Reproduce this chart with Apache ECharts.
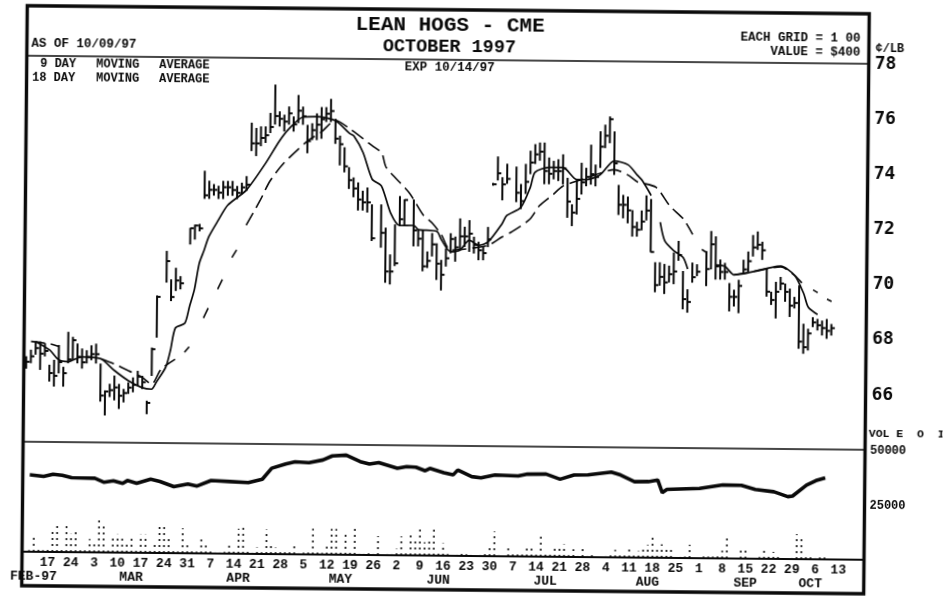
<!DOCTYPE html>
<html><head><meta charset="utf-8">
<style>
html,body{margin:0;padding:0;background:#fff;overflow:hidden}
#main{width:944px;height:597px;transform:rotate(0.55deg);transform-origin:472px 298.5px}
</style>
<script src="https://cdn.jsdelivr.net/npm/echarts@6/dist/echarts.min.js"></script>
</head><body><div id="main"></div>
<script>
// Slots are weekdays counted from Monday 10 Feb 1997. Price in cents per lb.
var tickLabels=['17','24','3','10','17','24','31','7','14','21','28','5','12','19','26','2','9','16','23','30','7','14','21','28','4','11','18','25','1','8','15','22','29','6','13'];
var monthSlots=[2,23,46,68,89,112,134,155,169];
var monthNames=['FEB-97','MAR','APR','MAY','JUN','JUL','AUG','SEP','OCT'];
var highs=[67.1,67.34,67.64,67.64,67.58,66.8,66.98,67.52,66.73,68.0,
67.82,67.58,67.4,67.34,67.52,67.58,66.86,65.89,66.13,66.43,
66.13,65.95,66.19,66.37,66.61,66.43,65.53,67.46,69.35,null,
70.97,69.94,70.36,70.06,null,71.81,71.93,71.96,73.89,73.53,
73.41,73.35,73.53,73.53,73.53,73.35,73.47,73.71,75.65,75.46,
75.52,75.52,76.01,77.04,76.07,75.95,76.25,75.89,76.67,76.25,
75.59,75.65,76.01,76.24,76.24,76.54,75.82,75.21,74.79,74.07,
73.7,73.52,73.22,73.34,72.73,null,72.73,71.89,70.92,72.01,
73.04,72.92,null,72.92,71.83,71.83,71.04,71.71,71.34,70.74,
71.16,71.71,71.59,72.25,71.95,72.19,71.59,71.41,71.22,71.95,
73.55,74.51,73.76,74.25,null,74.15,73.52,74.25,74.73,74.97,
75.03,75.03,74.49,74.37,74.43,74.61,73.76,72.8,73.7,74.31,
74.13,74.97,74.25,75.46,75.7,76.0,75.46,73.52,73.16,73.1,
72.61,72.19,72.6,73.15,73.02,70.73,70.73,70.67,70.61,71.09,
71.51,70.42,69.76,70.73,70.67,null,71.15,71.88,71.69,70.85,
70.73,70.0,69.76,70.12,70.85,71.15,71.75,71.88,71.51,70.55,
69.7,70.06,70.24,70.0,69.82,69.52,69.94,68.55,68.37,68.79,
68.73,68.67,68.73,68.55];
var lows=[66.65,66.85,67.16,66.61,67.1,66.19,66.01,66.49,66.01,66.86,
66.98,66.86,66.67,66.86,66.98,66.86,65.48,64.98,65.65,65.53,
65.22,65.46,65.77,65.83,66.07,65.95,65.04,66.43,67.82,null,
69.82,69.15,69.52,69.58,null,71.21,71.39,71.69,72.87,72.87,
72.99,72.87,72.87,72.99,72.99,72.87,73.05,73.17,74.62,74.44,
74.8,74.92,75.28,75.59,75.52,75.34,75.59,75.34,75.65,75.59,
74.56,75.04,75.04,75.09,75.7,75.7,74.91,74.13,73.88,73.28,
72.98,72.5,72.5,72.43,71.4,null,71.16,69.89,69.83,70.5,
71.95,71.95,null,71.22,71.22,70.32,70.44,70.86,70.01,69.63,
70.5,70.98,70.68,71.1,71.22,71.04,70.98,70.74,70.74,71.22,
73.45,73.64,72.92,73.52,null,72.86,72.61,73.16,73.88,74.25,
74.37,73.52,73.52,73.7,73.64,73.52,72.31,72.01,72.43,73.16,
73.46,73.52,73.46,74.13,74.85,75.03,73.88,72.43,72.31,72.13,
71.65,71.65,71.88,72.24,71.09,69.64,69.88,69.58,70.0,69.94,
70.79,69.03,68.91,70.0,70.24,null,69.88,70.49,70.12,70.12,
70.12,68.97,69.15,68.91,70.36,70.42,70.97,71.21,70.85,69.52,
69.22,68.73,69.76,69.34,68.79,69.1,67.64,67.46,67.58,68.43,
68.31,68.13,68.01,68.13];
var closes=[66.9,67.1,67.4,67.2,67.3,66.5,66.4,66.9,66.5,67.0,
67.7,67.1,66.9,67.1,67.2,67.2,65.7,65.85,65.9,66.0,
65.7,65.8,66.0,66.1,66.4,66.2,65.45,67.4,69.3,null,
70.6,69.3,69.9,69.8,null,71.8,71.9,71.8,73.0,73.2,
73.2,73.1,73.3,73.3,73.2,73.1,73.3,73.4,74.9,74.9,
75.1,75.2,75.5,75.9,75.8,75.7,76.0,75.6,76.1,75.9,
75.0,75.4,75.6,75.8,76.0,76.1,75.1,74.9,74.1,73.6,
73.3,72.9,72.8,72.8,71.5,null,71.7,70.3,70.3,70.6,
72.2,72.9,null,71.8,71.5,70.5,70.7,71.3,70.6,70.2,
70.8,71.5,71.2,71.6,71.6,71.7,71.3,71.1,71.0,71.5,
73.5,73.9,73.5,73.7,null,73.2,72.9,73.6,74.3,74.6,
74.7,74.0,73.9,74.0,74.0,74.1,72.9,72.5,73.0,73.6,
73.8,73.9,73.8,74.9,75.3,75.9,74.3,72.8,72.8,72.6,
72.0,71.9,72.2,72.6,71.1,69.9,70.2,70.0,70.3,70.4,
71.0,69.4,69.3,70.2,70.4,null,70.5,71.4,70.6,70.4,
70.4,69.5,69.5,69.9,70.5,70.8,71.3,71.4,71.2,69.7,
69.4,69.7,70.0,69.7,69.2,69.3,67.9,67.7,68.2,68.6,
68.5,68.4,68.3,68.4];
var ma9Slots=[2,5,7,9,12,16,19,22,25,27,28,30,31,32,34,35,36,37,38,39,41,43,47,51,54,56,59,62,66,69,70,72,74,76,78,80,83,84,88,89,91,93,95,97,99,102,103,106,108,109,112,115,118,120,123,126,129,131,132,134,135,136,137,139,141,142,143,148,150,152,154,157,160,162,165,167,168,170];
var ma9Vals=[67.64,67.34,66.98,66.92,67.1,67.04,66.61,66.25,66.0,65.95,66.2,66.75,67.38,68.18,68.35,68.97,69.57,70.53,71.0,71.5,72.1,72.65,73.21,74.17,75.0,75.44,75.87,75.89,75.75,75.3,75.2,74.6,73.64,73.4,72.43,71.97,71.98,71.83,71.77,71.47,71.04,71.1,71.47,71.28,71.4,72.07,72.37,72.67,73.4,73.95,74.13,74.13,73.7,73.7,73.88,74.39,74.25,73.88,73.7,73.15,null,72.18,71.51,71.15,70.91,70.49,null,70.65,70.6,70.3,70.34,70.46,70.58,70.63,70.3,69.64,69.15,68.89];
var ma18Slots=[1,5,7,9,16,19,22,25,27,29,32,33,34,35,36,38,39,40,41,42,43,44,45,46,47,50,52,55,60,63,66,69,74,76,77,82,85,87,89,91,99,102,104,108,110,113,115,119,123,126,129,131,135,138,141,143,144,145,146,147,152,156,162,165,167,168,169,170,171,172,173];
var ma18Vals=[67.64,67.56,67.46,null,67.04,66.85,66.61,66.37,66.13,66.67,67.04,null,67.3,67.5,null,68.55,68.91,null,69.6,69.95,null,70.75,71.03,null,71.93,72.85,73.53,74.2,75.0,75.34,75.77,75.47,74.85,74.59,74.07,73.16,72.37,72.07,71.65,71.1,71.28,71.59,71.77,72.25,72.74,73.16,73.46,73.7,73.94,74.07,73.88,73.64,73.45,72.78,72.3,71.75,null,71.21,71.1,null,70.3,70.42,70.6,70.3,69.95,null,69.78,69.68,null,69.45,69.37];
var oiSlots=[1,3,4,6,8,10,15,17,19,21,22,24,27,29,32,35,37,40,44,48,51,53,56,58,61,64,66,69,72,74,76,80,82,84,86,87,90,92,93,96,98,101,106,108,112,115,118,121,126,128,131,134,136,137,138,145,150,154,157,161,164,165,168,170,172];
var oiVals=[35.3,34.9,34.6,35.7,35.2,34.2,34.0,32.2,32.9,31.8,33.1,31.9,33.8,32.8,30.5,31.8,30.9,33.5,33.1,32.7,34.3,39.4,41.4,42.4,42.1,43.4,45.3,45.7,42.8,41.7,42.4,39.9,40.7,40.5,38.9,40,38.1,37.1,39.4,36.4,35.9,37.3,36.9,37.8,37.9,35.6,37.6,37.7,39.1,37.8,34.8,34.9,35.7,29.9,31.4,32,33.7,33.6,31.8,30.8,28.6,28.9,34,36.1,37.4];
var volumes=[0,0.8,6.9,1,0.8,2.3,9.2,12.2,1,12.2,
8.4,9.2,1,1.2,6.1,5.4,14.8,12.2,1.2,7.6,
8.4,7.6,3.8,6.9,1,8.4,8.4,2,3.8,12.2,
13.3,7.6,1,0.8,11.5,5.4,1.2,0.8,8.1,3.8,
1,0.5,0.5,0.8,5.4,2.3,11.5,13,1,0.5,
3,0.8,11.2,4.6,3,1,1.5,1.5,4.1,0.5,
0.8,1,11.8,1,0.8,4.6,11.8,11.8,1.5,10.7,
2.6,12.2,0.5,0.5,0.8,0.5,8.7,0.5,0.5,0.5,
3,8.7,1,10.7,6.9,12.7,6.1,7.6,12.7,1,
5.7,0.8,0.5,0.5,1.5,0.8,0.5,0.5,0.5,1,
4.2,11.4,0.5,0.5,4.7,1,1,1.5,3.9,5.2,
1,9.8,1,1,4.6,5.4,5.7,0.8,3.6,0.5,
4,0.5,1.7,0.5,0,0.5,1,3.4,1,1.5,
4.5,2.7,3,4.3,5.8,9.2,4.4,6.2,5.2,4.2,
0.5,0.5,0.7,6.1,0,0,0.8,0.8,0.8,1,
3.5,9.6,0,0,5.2,5,0,0,0.8,4.7,
2.5,3.2,2.5,0.5,0,0.5,11.5,10.5,1.4,1.2,
0.5,1.6,1.6,0];
var texts=[
 ['LEAN HOGS - CME',447.5,26,'bold 21px "Liberation Mono"','center'],
 ['OCTOBER 1997',447,47,'bold 18.5px "Liberation Mono"','center'],
 ['EXP 10/14/97',447.5,68,'bold 12.5px "Liberation Mono"','center'],
 ['AS OF 10/09/97',29,47.5,'bold 12.5px "Liberation Mono"','left'],
 ['9 DAY',38,68,'bold 12px "Liberation Mono"','left'],
 ['MOVING',94,68,'bold 12px "Liberation Mono"','left'],
 ['AVERAGE',157,68,'bold 12px "Liberation Mono"','left'],
 ['18 DAY',30,82,'bold 12px "Liberation Mono"','left'],
 ['MOVING',94,82,'bold 12px "Liberation Mono"','left'],
 ['AVERAGE',157,82,'bold 12px "Liberation Mono"','left'],
 ['EACH GRID = 1 00',858,35,'bold 12.5px "Liberation Mono"','right'],
 ['VALUE = $400',858,49,'bold 12.5px "Liberation Mono"','right'],
 ['¢/LB',873,45,'bold 12px "Liberation Mono"','left'],
 ['VOL E  O  I',870,430,'bold 11.5px "Liberation Mono"','left']
];

var slotCount=181, cats=[], monthCats=[];
for(var s=0;s<slotCount;s++){
  cats.push(s>=5&&s%5===0?(tickLabels[s/5-1]||''):'');
  var m=monthSlots.indexOf(s);
  monthCats.push(m>=0?monthNames[m]:'');
}
function pairs(a,b){return a.map(function(x,i){return [x,b[i]];});}
var barData=[];
highs.forEach(function(h,i){ if(h!==null) barData.push([i,h,lows[i],closes[i]]); });
var volData=volumes.map(function(v,i){return [i,v*1000];});
var INK='#0a0a0a', MONO='"Liberation Mono"';

var graphics=[
 {type:'rect',shape:{x:24.5,y:10,width:842,height:580},style:{fill:'none',stroke:INK,lineWidth:3.4},silent:true},
 {type:'line',shape:{x1:24.5,y1:60,x2:866.5,y2:60},style:{stroke:INK,lineWidth:1.6},silent:true}
];
texts.forEach(function(t){
  graphics.push({type:'text',x:t[1],y:t[2],silent:true,style:{text:t[0],font:t[3],fill:INK,textAlign:t[4],textVerticalAlign:'middle'}});
});

var chart=echarts.init(document.getElementById('main'),null,{renderer:'canvas',width:944,height:597});
chart.setOption({
 animation:false,backgroundColor:'#fff',
 graphic:{elements:graphics},
 grid:[
  {left:24.5,width:842,top:60,height:386},
  {left:24.5,width:842,top:447,height:109}
 ],
 xAxis:[
  {gridIndex:0,type:'category',data:cats,boundaryGap:true,axisTick:{show:false},axisLabel:{show:false},
   axisLine:{lineStyle:{color:INK,width:1.6}}},
  {gridIndex:1,type:'category',data:cats,boundaryGap:true,axisTick:{show:false},
   axisLine:{lineStyle:{color:INK,width:2}},
   axisLabel:{interval:0,margin:4,hideOverlap:false,fontFamily:MONO,fontWeight:'bold',fontSize:13,color:INK}},
  {gridIndex:1,type:'category',data:monthCats,position:'bottom',offset:18,boundaryGap:true,axisTick:{show:false},axisLine:{show:false},
   axisLabel:{interval:0,margin:0,hideOverlap:false,fontFamily:MONO,fontWeight:'bold',fontSize:13,color:INK}}
 ],
 yAxis:[
  {gridIndex:0,type:'value',position:'right',min:64,max:78,interval:2,splitLine:{show:false},axisLine:{show:false},axisTick:{show:false},
   axisLabel:{margin:6,fontFamily:'"DejaVu Sans Mono"',fontWeight:'bold',fontSize:18,color:INK,formatter:function(v){return v===64?'':String(v);}}},
  {gridIndex:1,type:'value',position:'right',min:0,max:50000,interval:25000,splitLine:{show:false},axisLine:{show:false},axisTick:{show:false},
   axisLabel:{margin:5,fontFamily:MONO,fontWeight:'bold',fontSize:12,color:INK,formatter:function(v){return v===0?'':String(v);}}}
 ],
 series:[
  {name:'Price',type:'custom',xAxisIndex:0,yAxisIndex:0,data:barData,encode:{x:0,y:[1,2,3]},clip:false,
   renderItem:function(p,api){
     var x=api.value(0),hi=api.coord([x,api.value(1)]),lo=api.coord([x,api.value(2)]),cl=api.coord([x,api.value(3)]);
     var st={stroke:INK,lineWidth:2};
     return {type:'group',children:[
       {type:'line',shape:{x1:hi[0],y1:hi[1],x2:lo[0],y2:lo[1]},style:st},
       {type:'line',shape:{x1:cl[0],y1:cl[1],x2:cl[0]+3.5,y2:cl[1]},style:st}
     ]};
   }},
  {name:'9 Day MA',type:'line',xAxisIndex:0,yAxisIndex:0,data:pairs(ma9Slots,ma9Vals),showSymbol:false,smooth:0.25,
   lineStyle:{color:INK,width:1.7}},
  {name:'18 Day MA',type:'line',xAxisIndex:0,yAxisIndex:0,data:pairs(ma18Slots,ma18Vals),showSymbol:false,smooth:0.25,
   lineStyle:{color:INK,width:1.6,type:[14,6]}},
  {name:'Open Interest',type:'line',xAxisIndex:1,yAxisIndex:1,data:pairs(oiSlots,oiVals.map(function(v){return v*1000;})),showSymbol:false,
   lineStyle:{color:INK,width:3.6}},
  {name:'Volume',type:'custom',xAxisIndex:1,yAxisIndex:1,data:volData,encode:{x:0,y:1},
   renderItem:function(p,api){
     var x=api.value(0),v=api.value(1);
     if(!v) return null;
     var t=api.coord([x,v]),b=api.coord([x,0]);
     return {type:'line',shape:{x1:t[0],y1:b[1],x2:t[0],y2:t[1]},style:{stroke:INK,lineWidth:1.6,lineDash:[2,4]}};
   }}
 ]
});
</script></body></html>
